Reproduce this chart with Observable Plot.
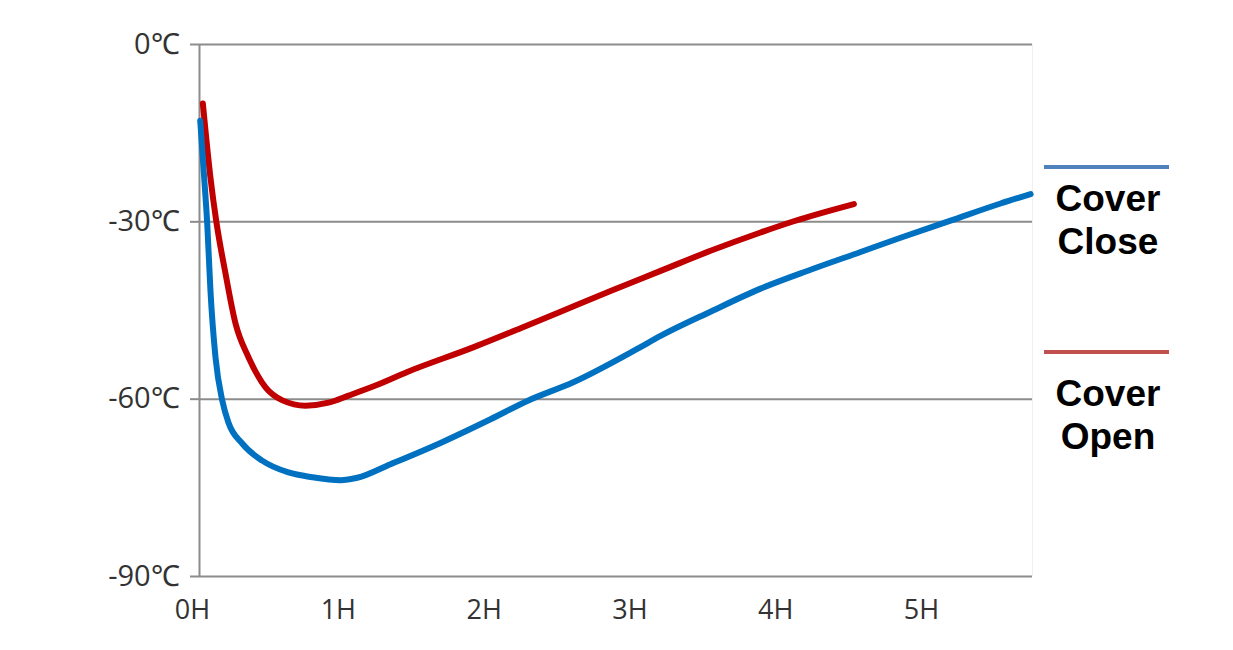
<!DOCTYPE html>
<html>
<head>
<meta charset="utf-8">
<script src="https://cdn.jsdelivr.net/npm/d3@7"></script>
<script src="https://cdn.jsdelivr.net/npm/@observablehq/plot@0.6"></script>
<style>
  html, body { margin: 0; padding: 0; background: #fff; }
  #wrap { position: relative; width: 1233px; height: 650px; }
  .leg { position: absolute; left: 1040px; width: 136px; height: 43px; text-align: center;
         font-family: "Liberation Sans", Arial, sans-serif; font-weight: 700;
         font-size: 37px; line-height: 43px; color: #000; white-space: nowrap; }
  .legline { position: absolute; left: 1044px; width: 125px; height: 4px; }
</style>
</head>
<body>
<div id="wrap"></div>
<script>
// Time in hours, temperature in °C
const closeHours = [0.005, 0.03, 0.053, 0.075, 0.11, 0.156, 0.199, 0.293, 0.43, 0.61, 0.773, 0.967, 1.082, 1.31, 1.653, 1.996, 2.248, 2.567, 3.002, 3.162, 3.505, 3.848, 4.191, 4.534, 4.808, 5.151, 5.494, 5.70];
const closeTemps = [-12.9, -21.8, -30.3, -41.6, -53.0, -60.2, -64.0, -67.5, -70.4, -72.4, -73.2, -73.7, -73.3, -71.0, -67.4, -63.4, -60.3, -57.1, -51.5, -49.3, -45.2, -41.3, -38.1, -35.1, -32.7, -29.8, -26.9, -25.3];
const openHours = [0.023, 0.075, 0.115, 0.178, 0.247, 0.336, 0.453, 0.569, 0.727, 0.885, 1.022, 1.207, 1.425, 1.881, 2.202, 2.476, 2.819, 3.162, 3.505, 3.848, 4.076, 4.488];
const openTemps = [-10.0, -22.5, -29.9, -38.7, -47.2, -52.9, -58.0, -60.2, -61.1, -60.6, -59.4, -57.7, -55.4, -51.2, -48.0, -45.2, -41.7, -38.3, -34.9, -31.8, -29.9, -27.0];
const yTicks = [0, -30, -60, -90];
const xTicks = [0, 1, 2, 3, 4, 5];
const seriesNames = ["Cover Close", "Cover Open"];

const closeData = closeHours.map((h, i) => ({h, t: closeTemps[i]}));
const openData = openHours.map((h, i) => ({h, t: openTemps[i]}));

const chart = Plot.plot({
  width: 1233,
  height: 650,
  marginLeft: 199,
  marginRight: 201,
  marginTop: 44,
  marginBottom: 74,
  style: {fontFamily: "'Open Sans', 'Noto Sans', sans-serif", background: "#fff"},
  x: {domain: [0, 5.713]},
  y: {domain: [-90, 0]},
  marks: [
    Plot.ruleY(yTicks, {stroke: "#8c8c8c", strokeWidth: 2}),
    Plot.ruleX([5.713], {stroke: "#f0f0f0", strokeWidth: 1}),
    Plot.ruleX([0], {stroke: "#8c8c8c", strokeWidth: 2}),
    Plot.axisY(yTicks, {
      tickSize: 9, tickPadding: 11, stroke: "#8c8c8c", strokeWidth: 2,
      tickFormat: d => `${d}℃`, fontSize: 29, fill: "#333", label: null
    }),
    Plot.axisX(xTicks, {
      tickSize: 0, tickPadding: 23, dx: -7,
      tickFormat: d => `${d}H`, fontSize: 27, fill: "#333", label: null,
      style: {letterSpacing: "3px"}
    }),
    Plot.line(openData, {x: "h", y: "t", stroke: "#C00000", strokeWidth: 6, curve: "monotone-x"}),
    Plot.line(closeData, {x: "h", y: "t", stroke: "#0070C0", strokeWidth: 6, curve: "monotone-x"})
  ]
});

const wrap = document.getElementById("wrap");
wrap.appendChild(chart);

const legend = [
  {name: seriesNames[0], color: "#4F81BD", lineTop: 165, textTop: 177},
  {name: seriesNames[1], color: "#C0504D", lineTop: 350, textTop: 372}
];
for (const l of legend) {
  const line = document.createElement("div");
  line.className = "legline";
  line.style.top = l.lineTop + "px";
  line.style.background = l.color;
  wrap.appendChild(line);
  l.name.split(" ").forEach((word, k) => {
    const txt = document.createElement("div");
    txt.className = "leg";
    txt.style.top = (l.textTop + k * 43) + "px";
    txt.textContent = word;
    wrap.appendChild(txt);
  });
}
</script>
</body>
</html>
